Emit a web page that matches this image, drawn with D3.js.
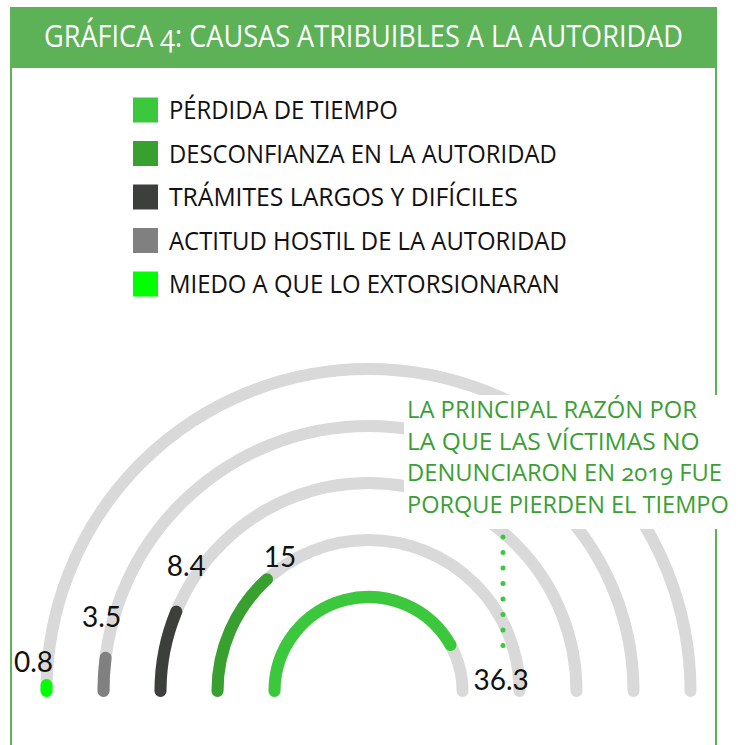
<!DOCTYPE html>
<html><head><meta charset="utf-8">
<script src="https://cdn.jsdelivr.net/npm/d3@7"></script>
<style>body{margin:0;background:#fff} svg{display:block} .onum{font-variant-numeric:oldstyle-nums;font-feature-settings:"onum" 1}</style>
</head><body><svg id="c" width="738" height="745"></svg>
<script>
// ---- data ----
const title = "GRÁFICA 4: CAUSAS ATRIBUIBLES A LA AUTORIDAD";
const categories = ["PÉRDIDA DE TIEMPO", "DESCONFIANZA EN LA AUTORIDAD", "TRÁMITES LARGOS Y DIFÍCILES", "ACTITUD HOSTIL DE LA AUTORIDAD", "MIEDO A QUE LO EXTORSIONARAN"];
const values = [36.3, 15, 8.4, 3.5, 0.8];
const valueLabels = ["36.3", "15", "8.4", "3.5", "0.8"];
const colors = ["#3cc83c", "#38a02f", "#3d3f3d", "#808080", "#00ff00"];
const noteLines = ["LA PRINCIPAL RAZÓN POR", "LA QUE LAS VÍCTIMAS NO", "DENUNCIARON EN 2019 FUE", "PORQUE PIERDEN EL TIEMPO"];

// ---- layout ----
const svg = d3.select("#c");
const frame = "#5db157";
const txtFont = "'Open Sans', 'Noto Sans', sans-serif";
const numFont = "Lato, 'Noto Sans', sans-serif";

// place a text at (x, y) squeezed horizontally to a target width
function fitText(parent, str, x, y, fs, w, fill, cls) {
  const g = parent.append("g").attr("transform", `translate(${x},${y})`);
  const t = g.append("text").attr("x", 0).attr("y", 0).attr("fill", fill)
    .attr("font-family", txtFont).attr("font-size", fs).attr("font-weight", 500).text(str);
  if (cls) t.attr("class", cls);
  const len = t.node().getComputedTextLength();
  t.attr("transform", `scale(${w / len},1)`);
  return t;
}

// frame borders
svg.append("line").attr("x1", 11).attr("x2", 11).attr("y1", 60).attr("y2", 745).attr("stroke", frame).attr("stroke-width", 2);
svg.append("line").attr("x1", 716).attr("x2", 716).attr("y1", 60).attr("y2", 745).attr("stroke", frame).attr("stroke-width", 2);
// title bar
svg.append("rect").attr("x", 10).attr("y", 7).attr("width", 707).attr("height", 61).attr("fill", frame);
fitText(svg, title, 44, 47, 31, 639, "#fff", "onum");

// legend
const legendY = d3.scalePoint().domain(categories).range([110, 284]);
const legendW = [229, 388, 349, 398, 391];
const lg = svg.append("g");
categories.forEach((c, i) => {
  lg.append("rect").attr("x", 133).attr("y", legendY(c) - 12.5).attr("width", 25).attr("height", 25).attr("fill", colors[i]);
  fitText(lg, c, 169, legendY(c) + 9, 25, legendW[i], "#111");
});

// arcs
const cx = 368.5, cy = 691;
const radius = d3.scalePoint().domain(categories).range([94, 322]);
const angle = d3.scalePow().exponent(1.3).domain([0, 40]).range([0, 171 * Math.PI / 180]);
function arcPath(r, a) { const p = d3.path(); p.arc(cx, cy, r, Math.PI, Math.PI + a, false); return p.toString(); }
const ag = svg.append("g").attr("fill", "none").attr("stroke-linecap", "round").attr("stroke-width", 12);
ag.selectAll("path.track").data(categories).join("path").attr("class", "track")
  .attr("d", c => arcPath(radius(c), Math.PI)).attr("stroke", "#d9d9d9");
ag.selectAll("path.val").data(categories).join("path").attr("class", "val")
  .attr("d", (c, i) => arcPath(radius(c), angle(values[i]))).attr("stroke", (c, i) => colors[i]);

// annotation box
svg.append("rect").attr("x", 404).attr("y", 395).attr("width", 334).attr("height", 134).attr("fill", "#fff");
const noteW = [290, 293, 315, 322];
noteLines.forEach((t, i) => fitText(svg, t, 407, 418 + i * 31.5, 23, noteW[i], "#3b9f35", "onum"));
svg.append("line").attr("x1", 503).attr("x2", 503).attr("y1", 537).attr("y2", 661)
  .attr("stroke", "#3cc83c").attr("stroke-width", 5).attr("stroke-linecap", "round").attr("stroke-dasharray", "0,15.5");

// value labels
const labelOff = [[0, 0], [13, -12], [10, -35], [-4, -31], [-13, -13]];
categories.forEach((c, i) => {
  const r = radius(c), a = angle(values[i]);
  let x, y, anchor = "middle";
  if (i === 0) { x = cx + r + 11; y = cy - 1; anchor = "start"; }
  else {
    x = cx - r * Math.cos(a) + labelOff[i][0];
    y = cy - r * Math.sin(a) + labelOff[i][1];
  }
  svg.append("text").attr("x", x).attr("y", y).attr("text-anchor", anchor)
    .attr("font-family", numFont).attr("font-size", 28).attr("fill", "#111").text(valueLabels[i]);
});
</script></body></html>
